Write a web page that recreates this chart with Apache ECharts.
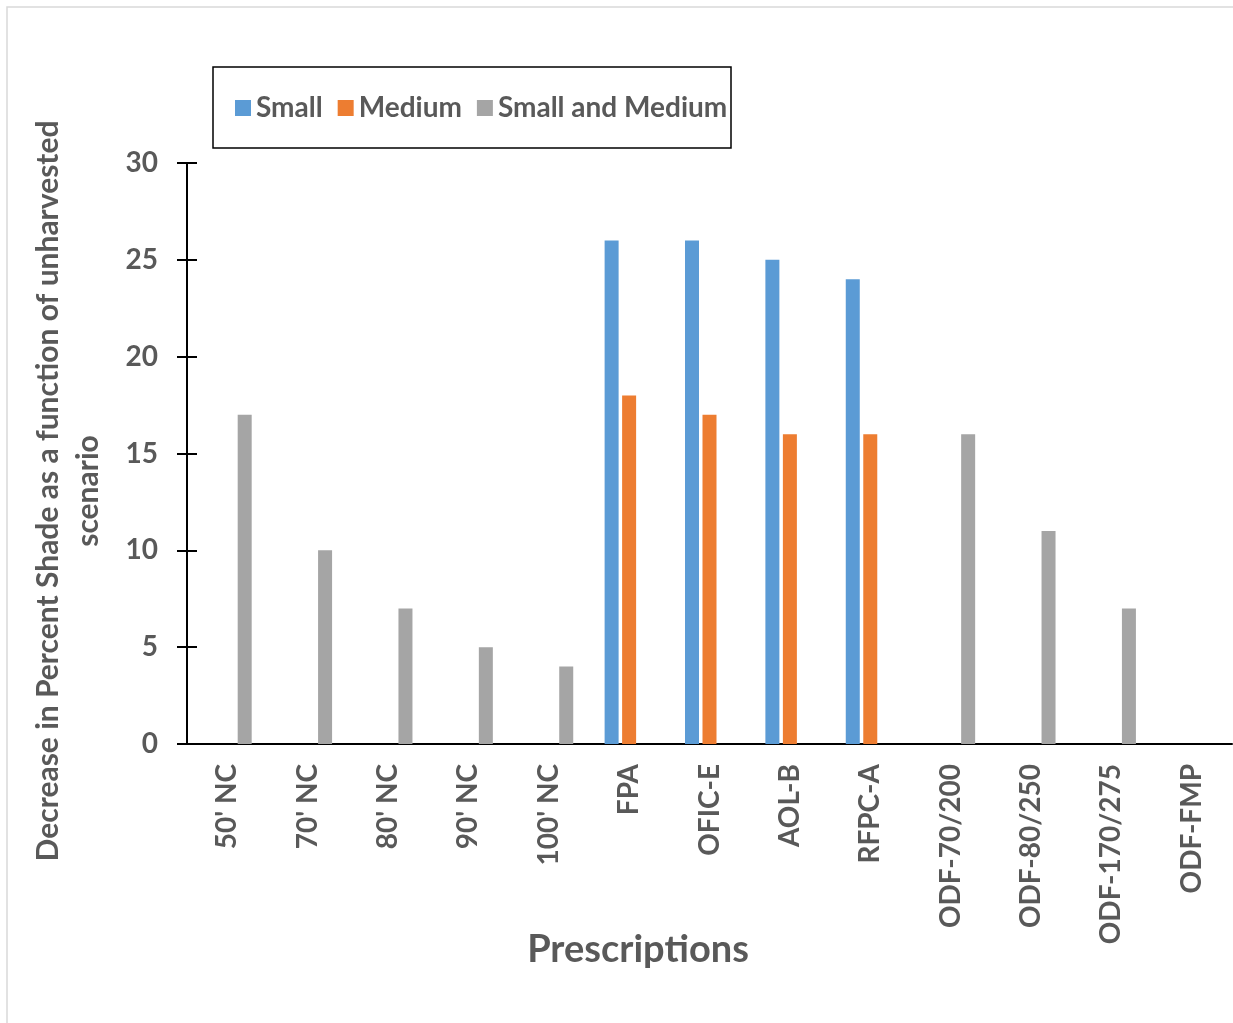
<!DOCTYPE html>
<html><head><meta charset="utf-8">
<script src="https://cdn.jsdelivr.net/npm/echarts@6/dist/echarts.min.js"></script>
<style>html,body{margin:0;padding:0;background:#fff}#c{width:1233px;height:1023px}</style>
</head><body><div id="c"></div>
<script>
const categories = ["50' NC","70' NC","80' NC","90' NC","100' NC","FPA","OFIC-E","AOL-B","RFPC-A","ODF-70/200","ODF-80/250","ODF-170/275","ODF-FMP"];
const small = [null,null,null,null,null,26,26,25,24,null,null,null,null];
const medium = [null,null,null,null,null,18,17,16,16,null,null,null,null];
const smallAndMedium = [17,10,7,5,4,null,null,null,null,16,11,7,0];
const yTicks = [0,5,10,15,20,25,30];

const FONT = 'Lato, "Open Sans", sans-serif';
const GRAY = '#595959';
const chart = echarts.init(document.getElementById('c'));
const yBase = {
  type:'value', min:yTicks[0], max:yTicks[yTicks.length-1], interval:5,
  axisLine:{show:true, lineStyle:{color:'#000', width:2}},
  splitLine:{show:false}
};
chart.setOption({
  animation:false,
  backgroundColor:'#fff',
  textStyle:{fontFamily:FONT},
  grid:{left:187, right:1, top:163, bottom:279, containLabel:false},
  legend:{
    left:230, top:89, itemWidth:16, itemHeight:16, itemGap:15,
    icon:'rect',
    textStyle:{fontFamily:FONT, fontWeight:'bold', fontSize:28, color:GRAY}
  },
  xAxis:{
    type:'category', data:categories,
    axisLine:{lineStyle:{color:'#000', width:2}},
    axisTick:{show:false},
    axisLabel:{rotate:90, margin:20, fontFamily:FONT, fontWeight:'bold', fontSize:28, color:GRAY, interval:0}
  },
  yAxis:[
    Object.assign({}, yBase, {
      axisTick:{show:true, length:10, lineStyle:{color:'#000', width:2}},
      axisLabel:{margin:29, fontFamily:FONT, fontWeight:'bold', fontSize:28, color:GRAY}
    }),
    Object.assign({}, yBase, {
      position:'left',
      axisTick:{show:true, inside:true, length:10, lineStyle:{color:'#000', width:2}},
      axisLabel:{show:false}
    })
  ],
  series:[
    {name:'Small', type:'bar', data:small, barWidth:14, barGap:'25%', itemStyle:{color:'#5B9BD5'}},
    {name:'Medium', type:'bar', data:medium, barWidth:14, barGap:'25%', itemStyle:{color:'#ED7D31'}},
    {name:'Small and Medium', type:'bar', data:smallAndMedium, barWidth:14, barGap:'25%', itemStyle:{color:'#A5A5A5'}}
  ],
  graphic:[
    {type:'rect', shape:{x:7, y:7, width:1240, height:1040}, style:{fill:null, stroke:'#d9d9d9', lineWidth:1.5}, silent:true},
    {type:'rect', shape:{x:213, y:67, width:518, height:81}, style:{fill:null, stroke:'#000', lineWidth:1.5}, silent:true},
    {type:'text', x:68, y:491, rotation:Math.PI/2,
     style:{text:'Decrease in Percent Shade as a function of unharvested\nscenario', textAlign:'center', textVerticalAlign:'middle',
       fontFamily:FONT, fontWeight:'bold', fontSize:30, lineHeight:40, fill:GRAY}},
    {type:'text', x:638, y:950,
     style:{text:'Prescriptions', textAlign:'center', textVerticalAlign:'middle',
       fontFamily:FONT, fontWeight:'bold', fontSize:38, fill:GRAY}}
  ]
});
</script></body></html>
